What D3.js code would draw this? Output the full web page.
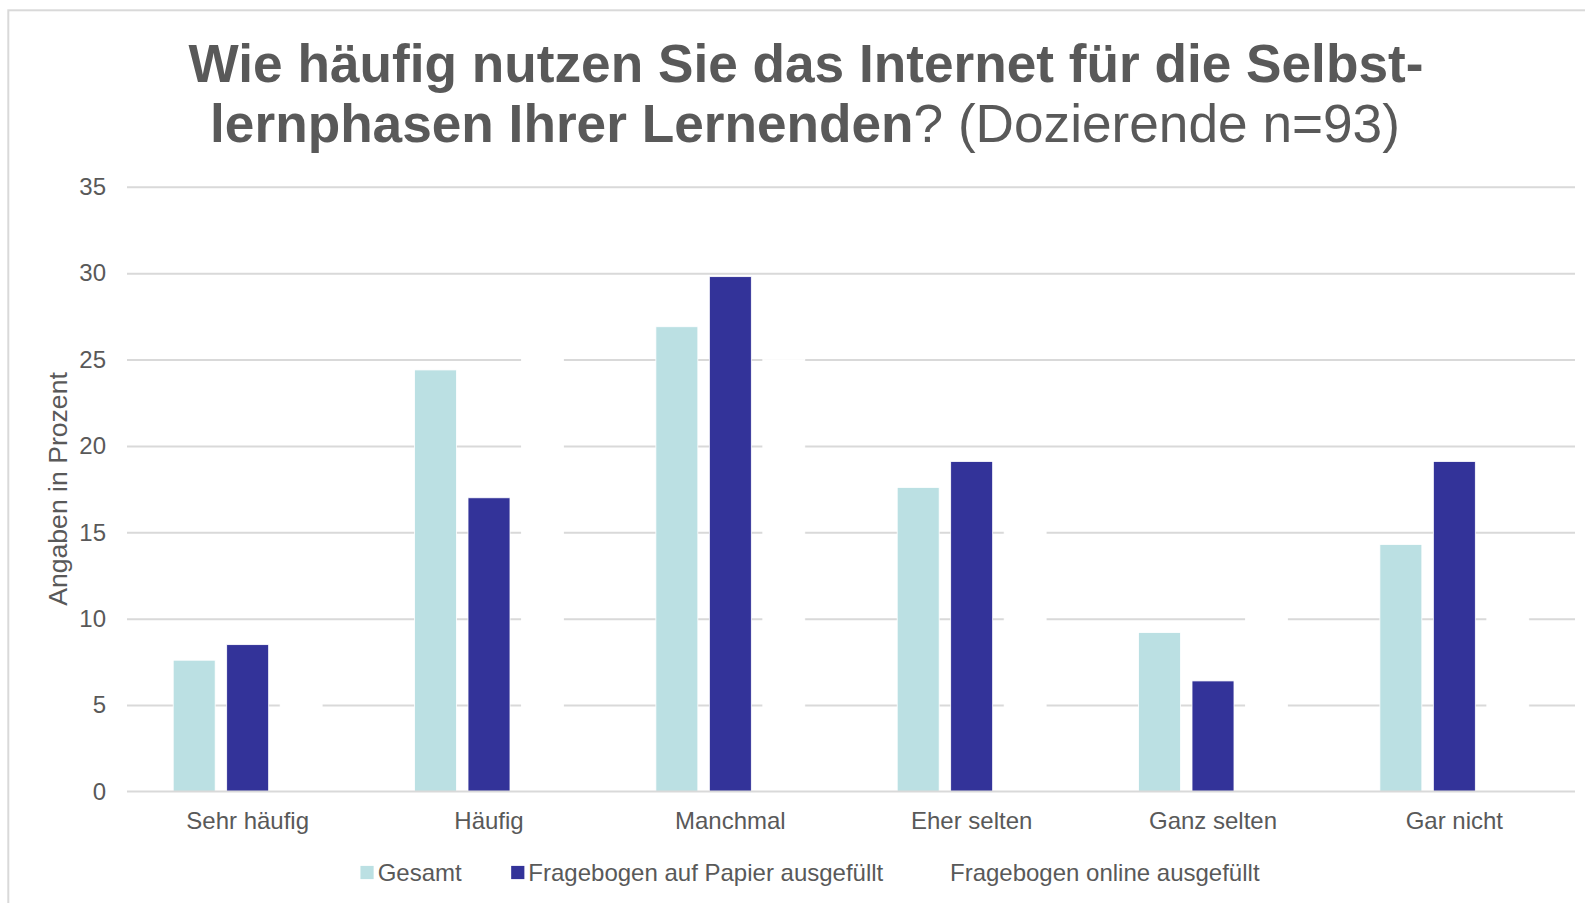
<!DOCTYPE html>
<html>
<head>
<meta charset="utf-8">
<script src="https://cdn.jsdelivr.net/npm/d3@7"></script>
<style>
  html, body { margin: 0; padding: 0; background: #ffffff; }
  svg { display: block; }
  text { font-family: "Liberation Sans", Arial, sans-serif; fill: #595959; }
</style>
</head>
<body>
<svg id="chart" width="1585" height="903"></svg>
<script>
// ---- Data ----
const categories = ["Sehr häufig", "Häufig", "Manchmal", "Eher selten", "Ganz selten", "Gar nicht"];
const seriesNames = ["Gesamt", "Fragebogen auf Papier ausgefüllt", "Fragebogen online ausgefüllt"];
const gesamt = [7.6, 24.4, 26.9, 17.6, 9.2, 14.3];
const papier = [8.5, 17.0, 29.8, 19.1, 6.4, 19.1];
const online = [6.8, 29.5, 25.0, 15.9, 11.4, 11.4];
const yTicks = [0, 5, 10, 15, 20, 25, 30, 35];
const seriesColors = ["#bbe0e3", "#333399", "#ffffff"];
const titleLine1 = "Wie häufig nutzen Sie das Internet für die Selbst-";
const titleLine2Bold = "lernphasen Ihrer Lernenden";
const titleLine2Normal = "? (Dozierende n=93)";
const yAxisTitle = "Angaben in Prozent";

const seriesValues = [gesamt, papier, online];
const rows = categories.map((c, i) => ({
  category: c,
  values: seriesNames.map((s, j) => ({ series: s, value: seriesValues[j][i], color: seriesColors[j] }))
}));

// ---- Layout ----
const svg = d3.select("#chart");
const plot = { left: 127, right: 1575, top: 186.8, bottom: 791.5 };

// Outer chart border
svg.append("rect")
  .attr("x", 8.3).attr("y", 10.3)
  .attr("width", 1700).attr("height", 1000)
  .attr("fill", "none").attr("stroke", "#d9d9d9").attr("stroke-width", 2);

// Title
const title = svg.append("text")
  .attr("text-anchor", "middle")
  .style("font-size", "53.2px");
title.append("tspan")
  .attr("x", 806).attr("y", 82)
  .style("font-weight", "bold")
  .text(titleLine1);
const t2 = title.append("tspan").attr("x", 805).attr("y", 142);
t2.append("tspan").style("font-weight", "bold").text(titleLine2Bold);
t2.append("tspan").style("font-weight", "normal").text(titleLine2Normal);

// Scales
const x0 = d3.scaleBand().domain(categories).range([plot.left, plot.right]).padding(0);
const x1 = d3.scaleBand().domain(seriesNames).range([46.2, x0.bandwidth() - 46.2]).paddingInner(0.215).paddingOuter(0);
const y = d3.scaleLinear().domain([0, 35]).range([plot.bottom, plot.top]);

// Gridlines
const grid = svg.append("g")
  .attr("transform", `translate(${plot.left},0)`)
  .call(d3.axisLeft(y).tickValues(yTicks.filter(v => v !== 0)).tickSize(-(plot.right - plot.left)).tickFormat(""));
grid.select(".domain").remove();
grid.selectAll(".tick line").attr("stroke", "#d9d9d9").attr("stroke-width", 2);

// Y tick labels
const yAxis = svg.append("g")
  .attr("transform", `translate(${plot.left},0)`)
  .call(d3.axisLeft(y).tickValues(yTicks).tickSize(0).tickPadding(21).tickFormat(d3.format("d")));
yAxis.select(".domain").remove();
yAxis.selectAll("text")
  .style("font-size", "24px")
  .style("font-family", "'Liberation Sans', Arial, sans-serif")
  .attr("fill", "#595959");

// Bars
const groups = svg.append("g").selectAll("g")
  .data(rows).join("g")
  .attr("transform", d => `translate(${x0(d.category)},0)`);
groups.selectAll("rect")
  .data(d => d.values).join("rect")
  .attr("x", d => x1(d.series))
  .attr("width", x1.bandwidth())
  .attr("y", d => y(d.value))
  .attr("height", d => y(0) - y(d.value))
  .attr("fill", d => d.color)
  .attr("stroke", "#ffffff")
  .attr("stroke-width", 0.8);

// Baseline (category axis line) drawn over bars
svg.append("line")
  .attr("x1", plot.left).attr("x2", plot.right)
  .attr("y1", y(0)).attr("y2", y(0))
  .attr("stroke", "#d9d9d9").attr("stroke-width", 2);

// X category labels
const xAxis = svg.append("g")
  .attr("transform", `translate(0,${plot.bottom})`)
  .call(d3.axisBottom(x0).tickSize(0).tickPadding(20));
xAxis.select(".domain").remove();
xAxis.selectAll("text")
  .style("font-size", "24px")
  .style("font-family", "'Liberation Sans', Arial, sans-serif")
  .attr("fill", "#595959");

// Y axis title
svg.append("text")
  .attr("transform", "translate(66.5,489) rotate(-90)")
  .attr("text-anchor", "middle")
  .style("font-size", "26.6px")
  .text(yAxisTitle);

// Legend
const legend = svg.append("g");
const swatch = 13.2, textGap = 4, itemGap = 49.5;
let lx = 0;
seriesNames.forEach((s, i) => {
  const g = legend.append("g").attr("transform", `translate(${lx},0)`);
  g.append("rect").attr("x", 0).attr("y", -6.6).attr("width", swatch).attr("height", swatch)
    .attr("fill", seriesColors[i]);
  const t = g.append("text").attr("x", swatch + textGap).attr("y", 8.5)
    .style("font-size", "24px").text(s);
  const w = t.node().getComputedTextLength();
  lx += swatch + textGap + w + itemGap;
});
const totalW = lx - itemGap;
legend.attr("transform", `translate(${810 - totalW / 2},872.5)`);
</script>
</body>
</html>
